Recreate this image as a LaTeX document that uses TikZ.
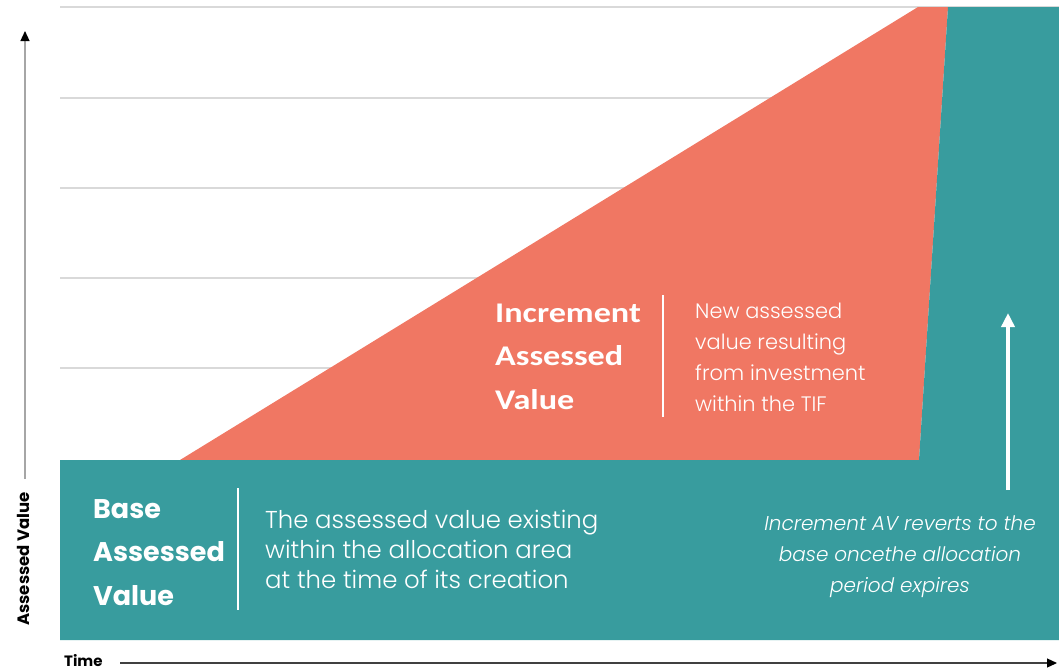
\documentclass[tikz,border=0pt]{standalone}
\usepackage{fontspec}
\setmainfont{Poppins}
\newfontfamily\lightfont{Poppins}[UprightFont=* Light, ItalicFont=* Light Italic]
\newfontfamily\headfont{Carlito}[FakeStretch=1.2]
\usetikzlibrary{arrows.meta}

\definecolor{tifteal}{RGB}{56,156,158}
\definecolor{tifsalmon}{RGB}{240,119,99}
\definecolor{gridgray}{RGB}{217,217,217}

\tikzset{
  gridline/.style={draw=gridgray, line width=1.3pt},
  axisline/.style={line width=1.2pt, -{Triangle[length=10pt,width=9pt,color=black]}},
  axislabel/.style={font=\bfseries\fontsize{15}{18}\selectfont, text=black, inner sep=0pt},
  headlbl/.style={font=\headfont\bfseries\fontsize{28.5}{43.5}\selectfont, text=white,
    align=left, inner sep=0pt, anchor=base west},
  baselbl/.style={font=\bfseries\fontsize{27}{43.5}\selectfont, text=white,
    align=left, inner sep=0pt, anchor=base west},
  desclbl/.style={text=white, align=left, inner sep=0pt, anchor=base west},
  sepline/.style={draw=white, line width=1.2pt},
  notelbl/.style={font=\lightfont\itshape\fontsize{20}{31}\selectfont, text=white,
    align=center, inner sep=0pt, anchor=base},
  uparrow/.style={draw=white, line width=3.5pt,
    -{Triangle[length=14pt,width=13pt,color=white]}}
}

\begin{document}
\begin{tikzpicture}[x=1pt,y=-1pt]
\useasboundingbox (0,0) rectangle (1059,670);

% horizontal value levels
\foreach \g in {7,98,188,278,368}
  \draw[gridline] (60,\g) -- (1059,\g);

% increment wedge
\fill[tifsalmon] (180,460) -- (918,7) -- (948,7) -- (919,460) -- cycle;
% base value band and the reverted value after expiry
\fill[tifteal] (60,460) -- (919,460) -- (948,7) -- (1059,7)
  -- (1059,640) -- (60,640) -- cycle;

% axes (multi-line labels below are anchored at their last baseline)
\coordinate (yfoot) at (25,479);
\coordinate (ytip) at (25,31);
\draw[axisline, draw=gray!70] (yfoot) -- (ytip);
\node[axislabel, font=\bfseries\fontsize{16.5}{18}\selectfont, rotate=90, anchor=base]
  (ylabel) at (29,559) {Assessed Value};

\coordinate (xstart) at (120,663);
\coordinate (xtip) at (1057,663);
\draw[axisline, draw=black!75] (xstart) -- (xtip);
\node[axislabel, anchor=base west] (xlabel) at (64,666) {Time};

% increment labels
\node[headlbl] (inchead) at (495,409) {Increment\\Assessed\\Value};
\coordinate (incsepT) at (663,295);
\coordinate (incsepB) at (663,417);
\draw[sepline] (incsepT) -- (incsepB);
\node[desclbl, font=\lightfont\fontsize{20.9}{31}\selectfont] (incdesc) at (695,411)
  {New assessed\\value resulting\\from investment\\within the TIF};

% base labels
\node[baselbl] (basehead) at (93,605) {Base\\Assessed\\Value};
\coordinate (basesepT) at (238,488);
\coordinate (basesepB) at (238,610);
\draw[sepline] (basesepT) -- (basesepB);
\node[desclbl, font=\lightfont\fontsize{24.4}{30}\selectfont] (basedesc) at (265,588)
  {The assessed value existing\\within the allocation area\\at the time of its creation};

% reversion note
\coordinate (revfoot) at (1008,490);
\coordinate (revtip) at (1008,313);
\draw[uparrow] (revfoot) -- (revtip);
\node[notelbl] (revnote) at (900,592)
  {Increment AV reverts to the\\base oncethe allocation\\period expires};
\end{tikzpicture}
\end{document}
